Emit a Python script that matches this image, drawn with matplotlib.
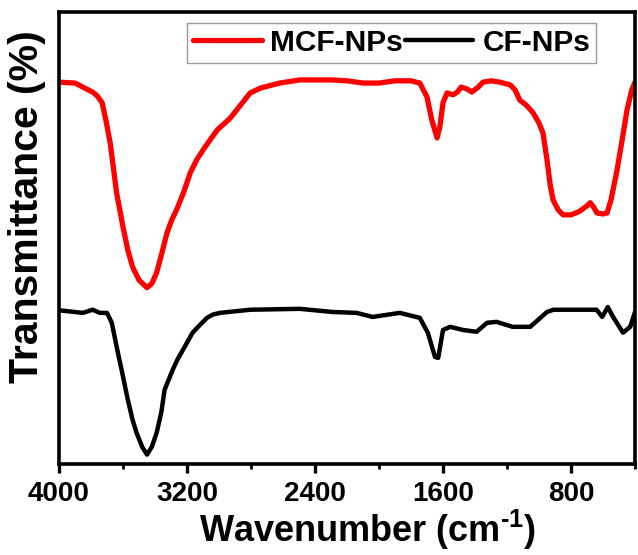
import numpy as np
import matplotlib
matplotlib.use('Agg')
import matplotlib.pyplot as plt
from matplotlib.ticker import MultipleLocator

plt.rcParams['font.family'] = ['Liberation Sans', 'DejaVu Sans']
plt.rcParams['font.weight'] = 'bold'
plt.rcParams['mathtext.fontset'] = 'custom'
plt.rcParams['mathtext.rm'] = 'Liberation Sans:bold'
plt.rcParams['mathtext.bf'] = 'Liberation Sans:bold'

# MCF-NPs (red)
wn_mcf = [4000, 3900, 3840, 3790, 3760, 3730, 3705, 3680, 3640, 3600,
          3570, 3540, 3500, 3450, 3420, 3390, 3360, 3325, 3295, 3265,
          3220, 3180, 3140, 3100, 3055, 3010, 2930, 2870, 2805, 2740,
          2620, 2495, 2300, 2200, 2100, 2000, 1900, 1800, 1745, 1700,
          1670, 1637, 1620, 1600, 1575, 1537, 1510, 1487, 1450, 1420,
          1380, 1350, 1300, 1245, 1180, 1150, 1120, 1080, 1037, 1000,
          975, 950, 930, 912, 880, 850, 800, 750, 700, 680,
          660, 637, 600, 575, 550, 512, 480, 450, 420, 400]
t_mcf = [84.4, 84.2, 83.1, 82.2, 81.3, 79.8, 75.6, 70.9, 59.8, 52.2,
         47.1, 43.3, 40.4, 38.7, 39.6, 42.0, 46.0, 50.9, 53.8, 56.0,
         60.0, 64.2, 67.1, 69.3, 71.6, 73.8, 76.4, 79.1, 82.0, 83.1,
         84.2, 84.9, 84.9, 84.7, 84.2, 84.2, 84.7, 84.7, 84.2, 81.1,
         76.0, 72.0, 74.4, 79.8, 82.0, 81.6, 82.2, 83.3, 82.9, 82.2,
         83.3, 84.4, 84.7, 84.4, 83.8, 82.7, 80.4, 79.3, 77.6, 75.3,
         73.1, 67.1, 61.6, 58.2, 56.0, 54.9, 54.9, 55.6, 56.9, 57.6,
         56.7, 55.3, 55.1, 55.3, 58.2, 64.9, 71.6, 78.2, 82.7, 84.4]

# CF-NPs (black)
wn_cf = [4000, 3980, 3850, 3790, 3745, 3700, 3670, 3640, 3605, 3570,
         3540, 3515, 3480, 3450, 3420, 3390, 3360, 3340, 3290, 3260,
         3225, 3165, 3120, 3075, 3040, 2995, 2805, 2495, 2290, 2140,
         2040, 1870, 1745, 1695, 1650, 1630, 1600, 1555, 1475, 1390,
         1325, 1265, 1165, 1055, 950, 910, 640, 605, 570, 537,
         475, 430, 400]
t_cf = [33.6, 33.6, 33.1, 33.8, 33.1, 33.1, 30.9, 25.6, 19.8, 13.8,
        9.3, 6.4, 3.3, 1.6, 3.3, 6.4, 11.1, 16.0, 20.4, 22.7,
        24.9, 28.7, 30.4, 32.0, 32.7, 33.1, 33.8, 34.0, 33.3, 33.1,
        32.2, 33.1, 32.0, 28.7, 23.3, 23.1, 29.3, 30.0, 29.3, 28.9,
        30.9, 31.1, 30.0, 30.0, 33.3, 33.8, 33.8, 32.2, 34.4, 32.2,
        28.7, 30.0, 33.3]

fig = plt.figure(figsize=(6.38, 5.55), dpi=100)
ax = fig.add_axes([59/638, (555-464)/555, 576/638, 452/555])

ax.plot(wn_mcf, t_mcf, color='red', lw=3.8, solid_joinstyle='round', solid_capstyle='round', label='MCF-NPs')
ax.plot(wn_cf, t_cf, color='black', lw=3.2, solid_joinstyle='round', solid_capstyle='round', label='CF-NPs')

ax.set_xlim(4000, 400)
ax.set_ylim(-0.5, 100)
ax.xaxis.set_minor_locator(MultipleLocator(400))
ax.set_xticks([4000, 3200, 2400, 1600, 800])
ax.set_yticks([])

for s in ax.spines.values():
    s.set_linewidth(2.6)

ax.tick_params(axis='x', which='major', direction='out', length=6.5, width=2.4, pad=6, labelsize=20)
ax.tick_params(axis='x', which='minor', direction='out', length=3.5, width=2.0)
for lab in ax.get_xticklabels():
    lab.set_fontweight('bold')

ax.set_xlabel('Wavenumber (cm$^{\u20101}$)', fontsize=26, fontweight='bold', labelpad=0)
ax.set_ylabel('Transmittance (%)', fontsize=29.5, fontweight='bold', labelpad=9)
ax.xaxis.label.set_x(0.535)
ax.yaxis.label.set_y(0.569)

leg = ax.legend(loc='upper left', bbox_to_anchor=(0.222, 0.976), ncol=2,
                frameon=True, fancybox=False, edgecolor='gray', borderaxespad=0,
                handlelength=2.3, handletextpad=0.3, columnspacing=0.05, borderpad=0.2,
                prop={'weight': 'bold', 'size': 21.5})
leg.get_frame().set_linewidth(1.0)

fig.savefig('out.png', dpi=100, facecolor='white')
